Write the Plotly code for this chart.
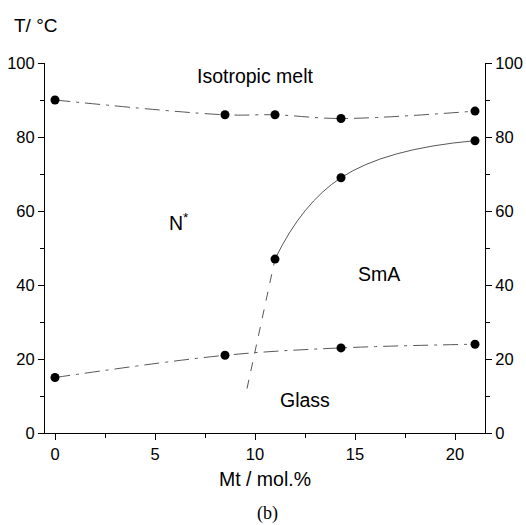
import plotly.graph_objects as go

# Data
iso_x = [0, 8.5, 11, 14.3, 21]
iso_y = [90, 86, 86, 85, 87]
sma_x = [11, 14.3, 21]
sma_y = [47, 69, 79]
ext_x = [9.6, 11]
ext_y = [12, 47]
glass_x = [0, 8.5, 14.3, 21]
glass_y = [15, 21, 23, 24]

FONT = "Liberation Sans, Arial, sans-serif"
fig = go.Figure()

LC = "#444"
fig.add_trace(go.Scatter(x=iso_x, y=iso_y, mode="lines", line=dict(color=LC, width=0.9, shape="spline", dash="longdashdot"), showlegend=False, hoverinfo="skip"))
fig.add_trace(go.Scatter(x=sma_x, y=sma_y, mode="lines", line=dict(color=LC, width=0.9, shape="spline", smoothing=1.3), showlegend=False, hoverinfo="skip"))
fig.add_trace(go.Scatter(x=ext_x, y=ext_y, mode="lines", line=dict(color=LC, width=0.9, dash="dash"), showlegend=False, hoverinfo="skip"))
fig.add_trace(go.Scatter(x=glass_x, y=glass_y, mode="lines", line=dict(color=LC, width=0.9, shape="spline", dash="longdashdot"), showlegend=False, hoverinfo="skip"))

for xs, ys in [(iso_x, iso_y), (sma_x, sma_y), (glass_x, glass_y)]:
    fig.add_trace(go.Scatter(x=xs, y=ys, mode="markers", marker=dict(color="black", size=9), showlegend=False, hoverinfo="skip"))
fig.add_trace(go.Scatter(x=[0], y=[0], yaxis="y2", mode="markers", marker=dict(opacity=0), showlegend=False, hoverinfo="skip"))

axis_common = dict(showgrid=False, zeroline=False, showline=True, linecolor="black", linewidth=1,
                   ticks="outside", ticklen=6, tickcolor="black", tickwidth=1, automargin=False,
                   tickfont=dict(family=FONT, size=16.5, color="black"))
yminor = dict(tickvals=[10, 30, 50, 70, 90], ticks="outside", ticklen=4, tickcolor="black")

fig.update_layout(
    width=526, height=525, paper_bgcolor="white", plot_bgcolor="white",
    margin=dict(l=45, r=41, t=63, b=92),
    xaxis=dict(axis_common, range=[-0.5, 21.5], tickvals=[0, 5, 10, 15, 20],
               minor=dict(tickvals=[2.5, 7.5, 12.5, 17.5], ticks="outside", ticklen=4, tickcolor="black"),
               title=dict(text="Mt / mol.%", font=dict(family=FONT, size=19.5, color="black"), standoff=10)),
    yaxis=dict(axis_common, range=[0, 100], tickvals=[0, 20, 40, 60, 80, 100], minor=yminor),
    yaxis2=dict(axis_common, range=[0, 100], tickvals=[0, 20, 40, 60, 80, 100], overlaying="y", side="right", minor=yminor),
)

ann = [
    ("Isotropic melt", 10, 96.5),
    ("N<sup>*</sup>", 6.2, 57),
    ("SmA", 16.2, 43),
    ("Glass", 12.5, 9),
]
for t, x, y in ann:
    fig.add_annotation(x=x, y=y, text=t, showarrow=False, font=dict(family=FONT, size=19.5, color="black"))

fig.add_annotation(x=-0.075, y=1.0, xref="paper", yref="paper", xanchor="left", yanchor="middle",
                   yshift=38, text="T/ °C", showarrow=False, font=dict(family=FONT, size=19, color="black"))
fig.add_annotation(x=0.505, y=0, xref="paper", yref="paper", yanchor="middle", yshift=-80,
                   text="(b)", showarrow=False, font=dict(family="Liberation Serif, Times New Roman, serif", size=18, color="black"))

fig.write_html("out.html")
